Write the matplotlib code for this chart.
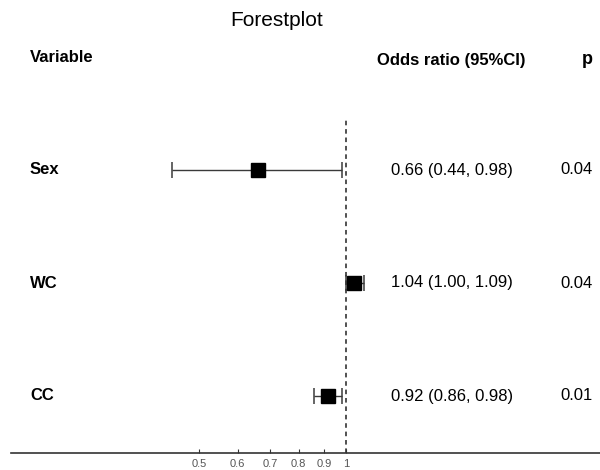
import matplotlib
matplotlib.use("Agg")
import matplotlib.pyplot as plt
import matplotlib.transforms as mtransforms
import numpy as np

plt.rcParams['font.family'] = ['Liberation Sans', 'DejaVu Sans']

# data
variables = ['Sex', 'WC', 'CC']
odds = [0.66, 1.04, 0.92]
lower = [0.44, 1.00, 0.86]
upper = [0.98, 1.09, 0.98]
pvals = ['0.04', '0.04', '0.01']
ticks = [0.5, 0.6, 0.7, 0.8, 0.9, 1]
tick_labels = ['0.5', '0.6', '0.7', '0.8', '0.9', '1']

W, H = 600, 470
fig = plt.figure(figsize=(6, 4.7), dpi=100)
ax = fig.add_axes([11 / W, 1 - 453 / H, 1 - 11 / W, (453 - 118) / H])

rows = np.arange(len(variables), 0, -1)  # Sex on top
odds_a = np.array(odds)
err = np.array([odds_a - np.array(lower), np.array(upper) - odds_a])

ax.errorbar(odds_a, rows, xerr=err, fmt='none', ecolor='#3a3a3a',
            elinewidth=1.0, capsize=6, capthick=1.1, zorder=2)
ax.plot(odds_a, rows, 's', color='black', markersize=10, zorder=3)
ax.axvline(1, color='#222222', linestyle=(0, (3, 2.5)), linewidth=1.1, zorder=1)

ax.set_xscale('log')
ax.set_xlim(0.206, 3.31)
ax.set_ylim(1 - 57 / 113, 3 + 52 / 113)
ax.set_xticks(ticks)
ax.set_xticklabels(tick_labels)
ax.xaxis.set_minor_locator(matplotlib.ticker.NullLocator())
ax.tick_params(axis='x', direction='in', length=3, width=0.8, colors='#333333',
               labelcolor='#555555', labelsize=8, pad=4)
ax.set_yticks([])
for s in ['top', 'right', 'left']:
    ax.spines[s].set_visible(False)
ax.spines['bottom'].set_color('#333333')
ax.spines['bottom'].set_linewidth(1.2)
ax.patch.set_alpha(0)

# text columns
tr = mtransforms.blended_transform_factory(fig.transFigure, ax.transData)
for r, v, o, lo, hi, p in zip(rows, variables, odds, lower, upper, pvals):
    fig.text(30 / W, r, v, transform=tr, ha='left', va='center',
             fontsize=12, fontweight='bold')
    fig.text(452 / W, r, f'{o:.2f} ({lo:.2f}, {hi:.2f})', transform=tr,
             ha='center', va='center', fontsize=12)
    fig.text(593 / W, r, p, transform=tr, ha='right', va='center', fontsize=12)

fig.text(277 / W, 1 - 20 / H, 'Forestplot', ha='center', va='center', fontsize=15)
fig.text(30 / W, 1 - 58 / H, 'Variable', ha='left', va='center',
         fontsize=12, fontweight='bold')
fig.text(451 / W, 1 - 60 / H, 'Odds ratio (95%CI)', ha='center', va='center',
         fontsize=12, fontweight='bold')
fig.text(593 / W, 1 - 59 / H, 'p', ha='right', va='center',
         fontsize=13, fontweight='bold')

fig.savefig('out.png', dpi=100, facecolor='white')
